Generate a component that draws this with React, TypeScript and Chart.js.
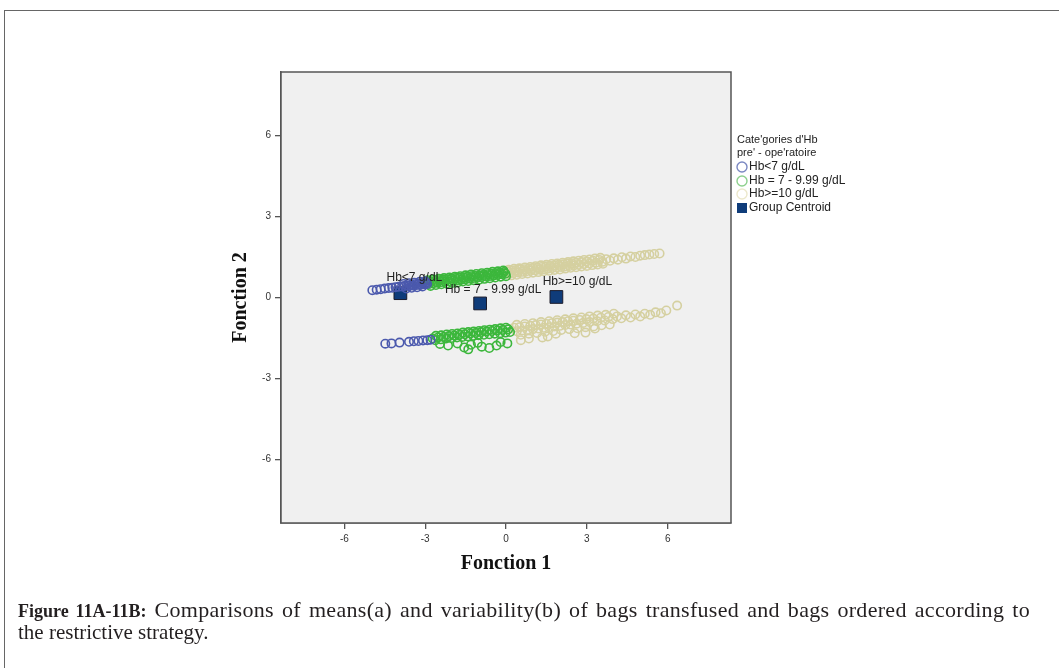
import React, { useEffect, useRef } from "react";
import { Chart, registerables } from "chart.js";

Chart.register(...registerables);

// ---- data (discriminant function scores: Fonction 1, Fonction 2) ----
const hbLt7Upper: [number, number][] = [
  [-4.96, 0.27], [-4.8, 0.29], [-4.65, 0.31], [-4.5, 0.33], [-4.35, 0.35], [-4.22, 0.36],
  [-4.1, 0.38], [-3.98, 0.4], [-3.86, 0.41], [-3.76, 0.43], [-3.68, 0.45], [-3.6, 0.43],
  [-3.52, 0.47], [-3.45, 0.44], [-3.38, 0.49], [-3.31, 0.46], [-3.24, 0.5], [-3.17, 0.47],
  [-3.1, 0.52], [-3.04, 0.49], [-2.98, 0.53], [-2.93, 0.5],
  [-3.8, 0.5], [-3.6, 0.53], [-3.4, 0.55], [-3.2, 0.58], [-3.0, 0.6],
  [-3.7, 0.33], [-3.5, 0.36], [-3.3, 0.38], [-3.1, 0.41],
];
const hbLt7Lower: [number, number][] = [
  [-4.48, -1.71], [-4.25, -1.7], [-3.95, -1.67], [-3.6, -1.64], [-3.42, -1.62],
  [-3.25, -1.61], [-3.08, -1.59], [-2.92, -1.58], [-2.8, -1.56],
];
const hbMidUpper: [number, number][] = [
  [-2.92, 0.55], [-2.85, 0.5], [-2.78, 0.6], [-2.7, 0.53], [-2.62, 0.62], [-2.55, 0.55],
  [-2.48, 0.64], [-2.4, 0.57], [-2.33, 0.66], [-2.25, 0.59], [-2.18, 0.68], [-2.1, 0.6],
  [-2.03, 0.7], [-1.95, 0.62], [-1.88, 0.72], [-1.8, 0.64], [-1.73, 0.73], [-1.65, 0.66],
  [-1.58, 0.75], [-1.5, 0.68], [-1.43, 0.77], [-1.35, 0.7], [-1.28, 0.79], [-1.2, 0.72],
  [-1.13, 0.8], [-1.05, 0.74], [-0.98, 0.82], [-0.9, 0.76], [-0.83, 0.84], [-0.75, 0.78],
  [-0.68, 0.86], [-0.6, 0.8], [-0.53, 0.88], [-0.45, 0.82], [-0.38, 0.9], [-0.3, 0.84],
  [-0.23, 0.92], [-0.15, 0.86], [-0.08, 0.94], [-0.02, 0.88],
  [-2.9, 0.64], [-2.7, 0.67], [-2.5, 0.69], [-2.3, 0.72], [-2.1, 0.74], [-1.9, 0.77],
  [-1.7, 0.79], [-1.5, 0.82], [-1.3, 0.85], [-1.1, 0.87], [-0.9, 0.9], [-0.7, 0.92],
  [-0.5, 0.95], [-0.3, 0.97], [-0.1, 1.0],
  [-2.8, 0.43], [-2.6, 0.46], [-2.4, 0.49], [-2.2, 0.51], [-2.0, 0.54], [-1.8, 0.56],
  [-1.6, 0.59], [-1.4, 0.61], [-1.2, 0.64], [-1.0, 0.66], [-0.8, 0.69], [-0.6, 0.71],
  [-0.4, 0.74], [-0.2, 0.77], [0.0, 0.79],
];
const hbMidLower: [number, number][] = [
  [-2.72, -1.52], [-2.62, -1.58], [-2.52, -1.48], [-2.42, -1.55], [-2.32, -1.46], [-2.22, -1.52],
  [-2.12, -1.43], [-2.02, -1.5], [-1.92, -1.41], [-1.82, -1.48], [-1.72, -1.38], [-1.62, -1.46],
  [-1.52, -1.36], [-1.42, -1.44], [-1.32, -1.33], [-1.22, -1.42], [-1.12, -1.31], [-1.02, -1.4],
  [-0.92, -1.28], [-0.82, -1.38], [-0.72, -1.26], [-0.62, -1.36], [-0.52, -1.24], [-0.42, -1.34],
  [-0.32, -1.22], [-0.22, -1.32], [-0.12, -1.2], [-0.02, -1.3], [0.08, -1.18], [0.15, -1.28],
  [-2.6, -1.42], [-2.4, -1.4], [-2.2, -1.37], [-2.0, -1.35], [-1.8, -1.33], [-1.6, -1.3],
  [-1.4, -1.28], [-1.2, -1.26], [-1.0, -1.24], [-0.8, -1.21], [-0.6, -1.19], [-0.4, -1.17],
  [-0.2, -1.14], [0.0, -1.12],
  [-2.45, -1.72], [-2.15, -1.78], [-1.8, -1.7], [-1.55, -1.85], [-1.4, -1.92], [-1.3, -1.75],
  [-1.05, -1.68], [-0.9, -1.82], [-0.62, -1.87], [-0.35, -1.78], [-0.2, -1.65], [0.05, -1.7],
];
const hbHighUpper: [number, number][] = [
  [0.05, 0.97], [0.12, 0.88], [0.2, 0.99], [0.28, 0.91], [0.36, 1.01], [0.44, 0.93],
  [0.52, 1.03], [0.6, 0.95], [0.68, 1.05], [0.76, 0.97], [0.84, 1.07], [0.92, 0.99],
  [1.0, 1.09], [1.08, 1.01], [1.16, 1.11], [1.24, 1.03], [1.32, 1.13], [1.4, 1.05],
  [1.48, 1.15], [1.56, 1.07], [1.64, 1.17], [1.72, 1.09], [1.8, 1.19], [1.88, 1.11],
  [1.96, 1.21], [2.04, 1.13], [2.12, 1.23], [2.2, 1.15], [2.28, 1.25], [2.36, 1.17],
  [2.44, 1.27], [2.52, 1.19], [2.6, 1.29], [2.7, 1.21], [2.8, 1.31], [2.9, 1.24],
  [3.0, 1.33], [3.1, 1.26], [3.22, 1.36], [3.34, 1.29], [3.46, 1.39], [3.58, 1.32],
  [3.72, 1.42], [3.86, 1.36], [4.0, 1.45], [4.15, 1.4], [4.3, 1.49], [4.45, 1.44],
  [4.62, 1.52], [4.8, 1.5], [4.98, 1.55], [5.15, 1.57], [5.32, 1.59], [5.5, 1.61], [5.7, 1.63],
  [0.1, 1.03], [0.3, 1.06], [0.5, 1.08], [0.7, 1.11], [0.9, 1.13], [1.1, 1.16],
  [1.3, 1.19], [1.5, 1.21], [1.7, 1.24], [1.9, 1.26], [2.1, 1.29], [2.3, 1.31],
  [2.5, 1.34], [2.7, 1.36], [2.9, 1.39], [3.1, 1.41], [3.3, 1.44], [3.5, 1.47],
  [0.2, 0.82], [0.4, 0.84], [0.6, 0.87], [0.8, 0.89], [1.0, 0.92], [1.2, 0.94],
  [1.4, 0.97], [1.6, 0.99], [1.8, 1.02], [2.0, 1.04], [2.2, 1.07], [2.4, 1.1],
  [2.6, 1.12], [2.8, 1.15], [3.0, 1.17], [3.2, 1.2], [3.4, 1.22], [3.6, 1.25],
];
const hbHighLower: [number, number][] = [
  [0.3, -1.12], [0.4, -1.25], [0.5, -1.1], [0.6, -1.22], [0.7, -1.07], [0.8, -1.2],
  [0.9, -1.05], [1.0, -1.17], [1.1, -1.02], [1.2, -1.15], [1.3, -1.0], [1.4, -1.12],
  [1.5, -0.98], [1.6, -1.1], [1.7, -0.95], [1.8, -1.07], [1.9, -0.93], [2.0, -1.05],
  [2.1, -0.91], [2.2, -1.02], [2.3, -0.88], [2.4, -1.0], [2.5, -0.86], [2.62, -0.97],
  [2.74, -0.83], [2.86, -0.94], [2.98, -0.8], [3.1, -0.91], [3.24, -0.78], [3.38, -0.88],
  [3.52, -0.75], [3.66, -0.85], [3.8, -0.72], [3.96, -0.8], [4.12, -0.7], [4.28, -0.77],
  [4.45, -0.66], [4.62, -0.74], [4.8, -0.63], [4.98, -0.7], [5.15, -0.6], [5.35, -0.64],
  [5.55, -0.55], [5.75, -0.58], [5.95, -0.48], [6.35, -0.3],
  [0.4, -1.01], [0.7, -0.98], [1.0, -0.95], [1.3, -0.91], [1.6, -0.88], [1.9, -0.84],
  [2.2, -0.81], [2.5, -0.77], [2.8, -0.74], [3.1, -0.7], [3.4, -0.67], [3.7, -0.64], [4.0, -0.6],
  [0.55, -1.38], [0.85, -1.34], [1.15, -1.31], [1.45, -1.27], [1.75, -1.24], [2.05, -1.2],
  [2.35, -1.17], [2.65, -1.14], [2.95, -1.1], [3.25, -1.07], [3.55, -1.03], [3.85, -1.0],
  [0.55, -1.58], [0.85, -1.52], [1.35, -1.48], [1.55, -1.44], [1.85, -1.34], [2.55, -1.32],
  [2.95, -1.3], [3.3, -1.15],
];
const centroidX = [-3.92, -0.96, 1.87];
const centroidY = [0.16, -0.22, 0.02];
const centroidLabels = ["Hb<7 g/dL", "Hb = 7 - 9.99 g/dL", "Hb>=10 g/dL"];
const seriesNames = ["Hb<7 g/dL", "Hb = 7 - 9.99 g/dL", "Hb>=10 g/dL", "Group Centroid"];
const legendTitle = ["Cate'gories d'Hb", "pre' - ope'ratoire"];
const tickValues = [-6, -3, 0, 3, 6];
const axisMin = -8.35;
const axisMax = 8.35;
const xTitle = "Fonction 1";
const yTitle = "Fonction 2";
const captionBold = "Figure 11A-11B:";
const captionLine1 = "Comparisons of means(a) and variability(b) of bags transfused and bags ordered according to";
const captionLine2 = "the restrictive strategy.";

const toPts = (arr: [number, number][]) => arr.map(([x, y]) => ({ x, y }));

const COLORS = ["#4b59ad", "#3cb73c", "#d5d0a0"];
const LEGEND_COLORS = ["#7b88c2", "#8dd08d", "#ece8cc"];
const CENTROID_FILL = "#0f3c7a";

const plotFrame = {
  id: "plotFrame",
  beforeDatasetsDraw(chart: any) {
    const { ctx, chartArea: a } = chart;
    ctx.save();
    ctx.fillStyle = "#f0f0f0";
    ctx.fillRect(a.left, a.top, a.right - a.left, a.bottom - a.top);
    ctx.restore();
  },
  afterDraw(chart: any) {
    const { ctx, chartArea: a } = chart;
    ctx.save();
    ctx.strokeStyle = "#555555";
    ctx.lineWidth = 1.5;
    ctx.strokeRect(a.left, a.top, a.right - a.left, a.bottom - a.top);

    // centroid labels
    const xs = chart.scales.x;
    const ys = chart.scales.y;
    const offsets = [[14, -15], [13, -14], [21, -15]];
    ctx.font = "12px 'Liberation Sans', Arial, sans-serif";
    ctx.fillStyle = "#222222";
    ctx.textAlign = "center";
    ctx.textBaseline = "middle";
    centroidLabels.forEach((t, i) => {
      const px = xs.getPixelForValue(centroidX[i]);
      const py = ys.getPixelForValue(centroidY[i]);
      ctx.fillText(t, px + offsets[i][0], py + offsets[i][1]);
    });

    // legend
    const lx = a.right + 6;
    ctx.textAlign = "left";
    ctx.fillStyle = "#222222";
    ctx.font = "11px 'Liberation Sans', Arial, sans-serif";
    ctx.fillText(legendTitle[0], lx, 140);
    ctx.fillText(legendTitle[1], lx, 153);
    ctx.font = "12px 'Liberation Sans', Arial, sans-serif";
    const rows = [167, 181, 194, 208];
    seriesNames.forEach((name, i) => {
      const y = rows[i];
      if (i < 3) {
        ctx.beginPath();
        ctx.arc(lx + 5, y, 5, 0, Math.PI * 2);
        ctx.fillStyle = "#ffffff";
        ctx.fill();
        ctx.strokeStyle = LEGEND_COLORS[i];
        ctx.lineWidth = 1.4;
        ctx.stroke();
      } else {
        ctx.fillStyle = CENTROID_FILL;
        ctx.fillRect(lx, y - 5, 10, 10);
      }
      ctx.fillStyle = "#222222";
      ctx.fillText(name, lx + 12, y);
    });
    ctx.restore();
  },
};

export default function App() {
  const ref = useRef<HTMLCanvasElement | null>(null);

  useEffect(() => {
    document.body.style.margin = "0";
    if (!ref.current) return;
    const pointBase = {
      pointStyle: "circle",
      pointRadius: 4.2,
      pointBorderWidth: 1.6,
      backgroundColor: "rgba(0,0,0,0)",
      showLine: false,
    };
    const chart = new Chart(ref.current, {
      type: "scatter",
      data: {
        datasets: [
          { ...pointBase, label: seriesNames[0], data: toPts([...hbLt7Upper, ...hbLt7Lower]), borderColor: COLORS[0] },
          { ...pointBase, label: seriesNames[1], data: toPts([...hbMidUpper, ...hbMidLower]), borderColor: COLORS[1] },
          { ...pointBase, label: seriesNames[2], data: toPts([...hbHighUpper, ...hbHighLower]), borderColor: COLORS[2] },
          {
            label: seriesNames[3],
            data: centroidX.map((x, i) => ({ x, y: centroidY[i] })),
            pointStyle: "rect",
            pointRadius: 9,
            pointBorderWidth: 1,
            backgroundColor: CENTROID_FILL,
            borderColor: "#1b1b2b",
            showLine: false,
          } as any,
        ] as any,
      },
      options: {
        animation: false,
        responsive: false,
        devicePixelRatio: 1,
        layout: { padding: { left: 221, top: 72, right: 328, bottom: 90 } },
        plugins: { legend: { display: false }, tooltip: { enabled: false } },
        scales: {
          x: {
            type: "linear",
            min: axisMin,
            max: axisMax,
            afterFit: (s: any) => { s.height = 55; },
            afterBuildTicks: (s: any) => { s.ticks = tickValues.map((v) => ({ value: v })); },
            grid: { drawOnChartArea: false, drawTicks: true, tickLength: 6, color: "#555555", lineWidth: 1.3 },
            border: { display: true, color: "#555555", width: 1.5 },
            ticks: { color: "#333333", font: { family: "'Liberation Sans', Arial, sans-serif", size: 10 }, padding: 4, maxRotation: 0 },
            title: { display: true, text: xTitle, color: "#111111", font: { family: "'Liberation Serif', serif", size: 20, weight: "bold" }, padding: { bottom: 2, top: 0 } },
          },
          y: {
            type: "linear",
            min: axisMin,
            max: axisMax,
            afterFit: (s: any) => { s.width = 60; },
            afterBuildTicks: (s: any) => { s.ticks = tickValues.map((v) => ({ value: v })); },
            grid: { drawOnChartArea: false, drawTicks: true, tickLength: 6, color: "#555555", lineWidth: 1.3 },
            border: { display: true, color: "#555555", width: 1.5 },
            ticks: { color: "#333333", font: { family: "'Liberation Sans', Arial, sans-serif", size: 10 }, padding: 4 },
            title: { display: true, text: yTitle, color: "#111111", font: { family: "'Liberation Serif', serif", size: 20, weight: "bold" }, padding: { top: 8, bottom: 0 } },
          },
        },
      } as any,
      plugins: [plotFrame],
    });
    return () => chart.destroy();
  }, []);

  const captionFont = { fontFamily: "'Liberation Serif', serif", fontSize: 21, lineHeight: "22px", color: "#231f20" };
  return (
    <div style={{ position: "relative", width: 1059, height: 668, overflow: "hidden", background: "#ffffff" }}>
      <div style={{ position: "absolute", left: 4, top: 10, width: 1080, height: 700, border: "1px solid #666666", boxSizing: "border-box" }} />
      <canvas ref={ref} width={1059} height={668} style={{ position: "absolute", left: 0, top: 0, width: 1059, height: 668 }} />
      <div style={{ position: "absolute", left: 18, top: 599, width: 1012, textAlign: "justify", textAlignLast: "justify", whiteSpace: "nowrap", ...captionFont, fontSize: 22, letterSpacing: "0.3px" } as any}>
        <b style={{ fontSize: 18, letterSpacing: "0px" }}>{captionBold}</b> {captionLine1}
      </div>
      <div style={{ position: "absolute", left: 18, top: 621, whiteSpace: "nowrap", ...captionFont }}>
        {captionLine2}
      </div>
    </div>
  );
}
